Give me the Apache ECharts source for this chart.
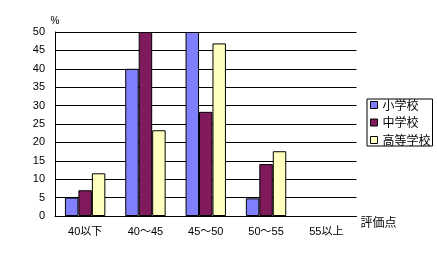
<!DOCTYPE html>
<html><head><meta charset="utf-8">
<script src="https://cdn.jsdelivr.net/npm/echarts@6/dist/echarts.min.js"></script>
<style>html,body{margin:0;padding:0;background:#fff}#c{width:437px;height:254px}</style>
</head><body><div id="c"></div>
<script>
const categories = ['40以下', '40～45', '45～50', '50～55', '55以上'];
const elementary = [5, 40, 50, 4.8, 0];
const juniorHigh = [7, 50, 28.3, 14.1, 0];
const highSchool = [11.6, 23.3, 46.9, 17.6, 0];
const seriesNames = ['小学校', '中学校', '高等学校'];
const yTicks = { min: 0, max: 50, interval: 5 };

const font = '"Liberation Sans","Noto Sans CJK JP",sans-serif';
const chart = echarts.init(document.getElementById('c'), null, { renderer: 'canvas' });
const colors = ['#8080FF', '#801A5C', '#FFFFC0'];
const data = [elementary, juniorHigh, highSchool];
chart.setOption({
  animation: false,
  textStyle: { fontFamily: font, color: '#000' },
  grid: { left: 55, top: 32, width: 301.5, height: 184, containLabel: false },
  legend: {
    orient: 'vertical', left: 367, top: 99,
    padding: [0, 2, 0, 3], itemGap: 5.5,
    itemWidth: 7, itemHeight: 7, icon: 'rect',
    borderColor: '#000', borderWidth: 1,
    itemStyle: { borderColor: '#000', borderWidth: 1 },
    textStyle: { fontSize: 12, lineHeight: 12, color: '#000', fontFamily: '"Noto Sans CJK JP",sans-serif' },
    data: seriesNames
  },
  xAxis: {
    type: 'category', data: categories,
    name: '評価点', nameLocation: 'end', nameGap: 4,
    nameTextStyle: { fontSize: 12, verticalAlign: 'top', padding: [0, 0, 0, 0], color: '#000', fontFamily: '"Noto Sans CJK JP",sans-serif' },
    axisLine: { lineStyle: { color: '#000', width: 1 } },
    axisTick: { inside: true, length: 3, lineStyle: { color: '#000' } },
    axisLabel: { fontSize: 11, color: '#000', margin: 10 },
    splitLine: { show: false }
  },
  yAxis: {
    type: 'value', min: yTicks.min, max: yTicks.max, interval: yTicks.interval,
    name: '%', nameLocation: 'end', nameGap: 5,
    nameTextStyle: { fontSize: 10, color: '#000', align: 'center' },
    axisLine: { show: true, lineStyle: { color: '#000', width: 1 } },
    axisTick: { show: false },
    axisLabel: { fontSize: 11, color: '#000', margin: 10 },
    splitLine: { lineStyle: { color: '#000', width: 1 } }
  },
  series: seriesNames.map((n, i) => ({
    name: n, type: 'bar',
    data: data[i].map(v => v === 0 ? { value: 0, itemStyle: { borderWidth: 0, opacity: 0 } } : v),
    barGap: '0%', barCategoryGap: '33%',
    itemStyle: { color: colors[i], borderColor: '#000', borderWidth: 1 }
  }))
});
</script></body></html>
